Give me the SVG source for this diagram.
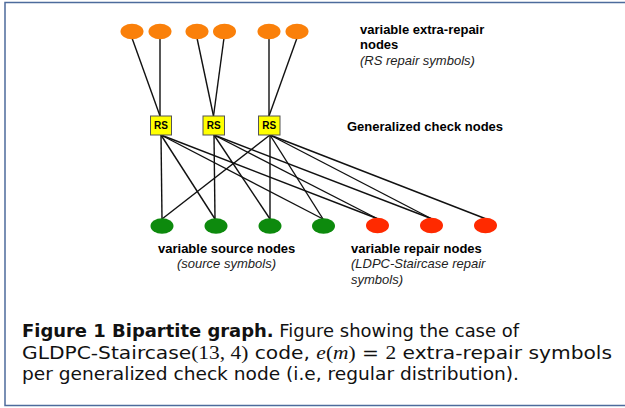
<svg xmlns="http://www.w3.org/2000/svg" width="625" height="408" viewBox="0 0 625 408">
<style>
.frame{fill:none;stroke:#4d6b9c;stroke-width:1.5}
.edge{stroke:#111;stroke-width:1.4;fill:none}
.ex{fill:#fa800a}
.src{fill:#0d8a0d}
.rep{fill:#ff2a00}
.rs rect{fill:#ffff00;stroke:#555;stroke-width:1}
.rs text{font-family:"Liberation Sans",Arial,sans-serif;font-weight:bold;font-size:10px;fill:#000;text-anchor:middle}
.lb{font-family:"Liberation Sans",Arial,sans-serif;font-weight:bold;font-size:13px;fill:#000}
.li{font-family:"Liberation Sans",Arial,sans-serif;font-style:italic;font-size:13px;fill:#222}
.cap{font-family:"DejaVu Sans","Open Sans",sans-serif;font-size:17px;fill:#111}
.m{font-family:"Liberation Serif","Times New Roman",serif;font-size:18px}
.mi{font-family:"Liberation Serif","Times New Roman",serif;font-style:italic;font-size:18px}
</style>
<rect x="0" y="0" width="625" height="408" fill="#fff"/>
<path class="frame" d="M630,2.5 H5 V405.5 H630"/>
<g id="connectors">
<line class="edge" x1="132" y1="38" x2="160" y2="116"/>
<line class="edge" x1="160" y1="38" x2="160" y2="116"/>
<line class="edge" x1="197" y1="38" x2="213.5" y2="116"/>
<line class="edge" x1="224" y1="38" x2="213.5" y2="116"/>
<line class="edge" x1="269" y1="38" x2="269" y2="116"/>
<line class="edge" x1="297" y1="38" x2="269" y2="116"/>
<line class="edge" x1="161" y1="135" x2="162" y2="219"/>
<line class="edge" x1="161" y1="135" x2="215" y2="219"/>
<line class="edge" x1="161" y1="135" x2="323" y2="219"/>
<line class="edge" x1="161" y1="135" x2="377" y2="218.5"/>
<line class="edge" x1="214" y1="135" x2="215" y2="219"/>
<line class="edge" x1="214" y1="135" x2="270" y2="219"/>
<line class="edge" x1="214" y1="135" x2="377" y2="218.5"/>
<line class="edge" x1="214" y1="135" x2="431" y2="218.5"/>
<line class="edge" x1="270" y1="135" x2="162" y2="219"/>
<line class="edge" x1="270" y1="135" x2="270" y2="219"/>
<line class="edge" x1="270" y1="135" x2="323" y2="219"/>
<line class="edge" x1="270" y1="135" x2="431" y2="218.5"/>
<line class="edge" x1="270" y1="135" x2="485" y2="218.5"/>
</g>
<g id="extra-repair-nodes">
<ellipse id="e1" class="ex" cx="132" cy="31.5" rx="11.5" ry="7.8"/>
<ellipse id="e2" class="ex" cx="160" cy="31.5" rx="11.5" ry="7.8"/>
<ellipse id="e3" class="ex" cx="197" cy="31.5" rx="11.5" ry="7.8"/>
<ellipse id="e4" class="ex" cx="224.5" cy="31.5" rx="11.5" ry="7.8"/>
<ellipse id="e5" class="ex" cx="269" cy="31.5" rx="11.5" ry="7.8"/>
<ellipse id="e6" class="ex" cx="297" cy="31.5" rx="11.5" ry="7.8"/>
</g>
<g id="rs1" class="rs"><rect x="150.5" y="116" width="21" height="19"/><text x="161" y="129">RS</text></g>
<g id="rs2" class="rs"><rect x="203" y="116" width="21.5" height="19"/><text x="213.7" y="129">RS</text></g>
<g id="rs3" class="rs"><rect x="258.5" y="116" width="21.5" height="19"/><text x="269.2" y="129">RS</text></g>
<g id="source-nodes">
<ellipse id="s1" class="src" cx="162" cy="226" rx="11.5" ry="7.8"/>
<ellipse id="s2" class="src" cx="216" cy="226" rx="11.5" ry="7.8"/>
<ellipse id="s3" class="src" cx="270" cy="226" rx="11.5" ry="7.8"/>
<ellipse id="s4" class="src" cx="323.5" cy="226" rx="11.5" ry="7.8"/>
</g>
<g id="repair-nodes">
<ellipse id="r1" class="rep" cx="377.5" cy="225.5" rx="11.5" ry="7.8"/>
<ellipse id="r2" class="rep" cx="431.5" cy="225.5" rx="11.5" ry="7.8"/>
<ellipse id="r3" class="rep" cx="485.5" cy="225.5" rx="11.5" ry="7.8"/>
</g>
<g id="labels">
<text class="lb" x="360" y="33.5">variable extra-repair</text>
<text class="lb" x="360" y="49">nodes</text>
<text class="li" x="360" y="64.5">(RS repair symbols)</text>
<text class="lb" x="347" y="130.5">Generalized check nodes</text>
<text class="lb" x="158" y="252.5">variable source nodes</text>
<text class="li" x="177" y="268">(source symbols)</text>
<text class="lb" x="351" y="252.5">variable repair nodes</text>
<text class="li" x="351" y="268">(LDPC-Staircase repair</text>
<text class="li" x="351" y="283.5">symbols)</text>
</g>
<g id="caption">
<text class="cap" x="22" y="337" textLength="497" lengthAdjust="spacingAndGlyphs"><tspan font-weight="bold">Figure 1</tspan><tspan font-weight="bold" dx="6">Bipartite graph.</tspan> Figure showing the case of</text>
<text class="cap" x="22" y="358.5" textLength="590" lengthAdjust="spacingAndGlyphs">GLDPC-Staircase<tspan class="m">(13, 4)</tspan> code, <tspan class="mi">e</tspan><tspan class="m">(</tspan><tspan class="mi">m</tspan><tspan class="m">)</tspan> = <tspan class="m">2</tspan> extra-repair symbols</text>
<text class="cap" x="22" y="380" textLength="497" lengthAdjust="spacingAndGlyphs">per generalized check node (i.e, regular distribution).</text>
</g>
</svg>
